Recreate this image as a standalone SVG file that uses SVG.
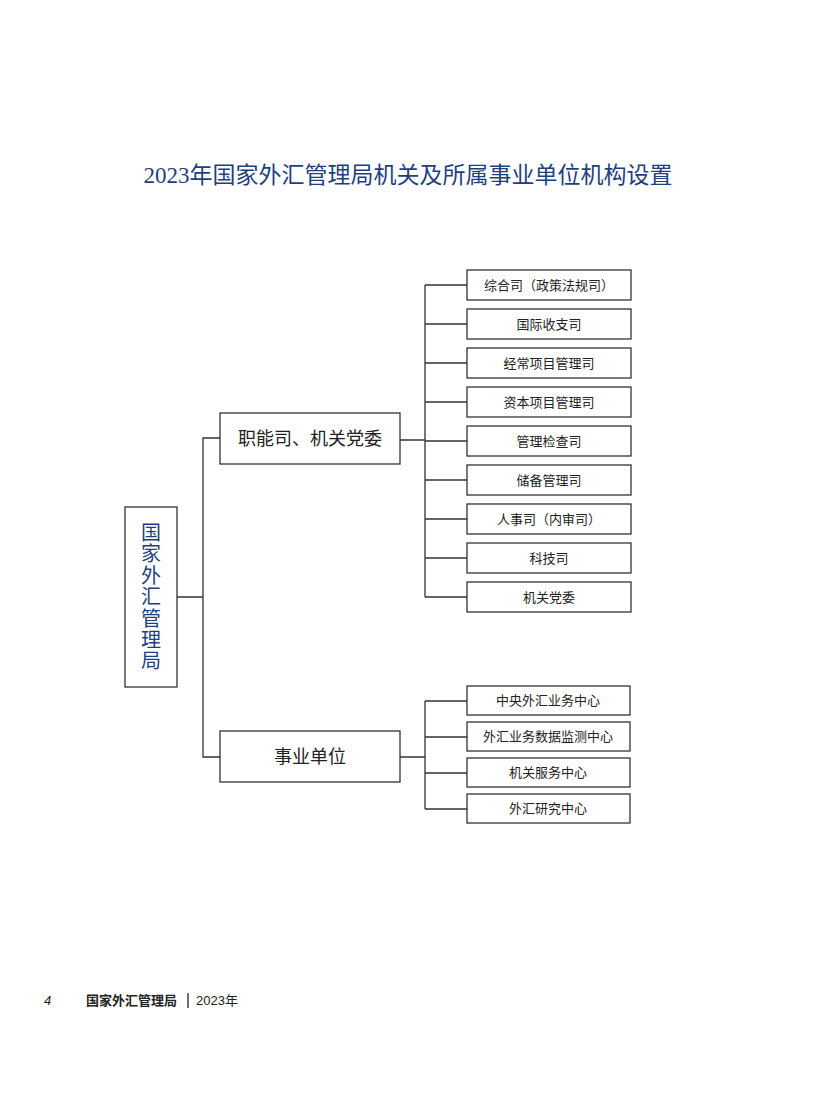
<svg xmlns="http://www.w3.org/2000/svg" width="816" height="1100" viewBox="0 0 816 1100">
<style>
.b{fill:#fff;stroke:#333;stroke-width:1.3}
.l{stroke:#333;stroke-width:1.3;fill:none}
.t{font-family:"Liberation Serif","Noto Sans CJK SC",serif;font-size:13px;fill:#222;text-anchor:middle}
.m{font-family:"Liberation Serif","Noto Sans CJK SC",serif;font-size:18px;fill:#222;text-anchor:middle}
</style>
<rect width="816" height="1100" fill="#fff"/>
<text x="408" y="183" font-family="Liberation Serif,Noto Sans CJK SC,serif" font-size="23" fill="#1f3f7f" text-anchor="middle">2023年国家外汇管理局机关及所属事业单位机构设置</text>
<g id="connectors">
<path class="l" d="M177 597H203M220 438H203V757H220M400 440H425M425 285V597M425 285H467M425 324H467M425 363H467M425 402H467M425 441H467M425 480H467M425 519H467M425 558H467M425 597H467M400 757H425M425 701V809M425 701H467M425 737H467M425 773H467M425 809H467"/>
</g>
<g id="root"><rect class="b" x="125" y="507" width="52" height="180"/>
<text font-family="Liberation Serif,Noto Sans CJK SC,serif" font-size="20" fill="#1f3f7f" text-anchor="middle"><tspan x="151" y="540">国</tspan><tspan x="151" y="561">家</tspan><tspan x="151" y="583">外</tspan><tspan x="151" y="604">汇</tspan><tspan x="151" y="626">管</tspan><tspan x="151" y="647">理</tspan><tspan x="151" y="668">局</tspan></text></g>
<g id="n1"><rect class="b" x="220" y="413" width="180" height="51"/><text class="m" x="310" y="445">职能司、机关党委</text></g>
<g id="n2"><rect class="b" x="220" y="731" width="180" height="51"/><text class="m" x="310" y="763">事业单位</text></g>
<g id="a1"><rect class="b" x="467" y="270" width="164" height="30"/><text class="t" x="549" y="290">综合司（政策法规司）</text></g>
<g id="a2"><rect class="b" x="467" y="309" width="164" height="30"/><text class="t" x="549" y="329">国际收支司</text></g>
<g id="a3"><rect class="b" x="467" y="348" width="164" height="30"/><text class="t" x="549" y="368">经常项目管理司</text></g>
<g id="a4"><rect class="b" x="467" y="387" width="164" height="30"/><text class="t" x="549" y="407">资本项目管理司</text></g>
<g id="a5"><rect class="b" x="467" y="426" width="164" height="30"/><text class="t" x="549" y="446">管理检查司</text></g>
<g id="a6"><rect class="b" x="467" y="465" width="164" height="30"/><text class="t" x="549" y="485">储备管理司</text></g>
<g id="a7"><rect class="b" x="467" y="504" width="164" height="30"/><text class="t" x="549" y="524">人事司（内审司）</text></g>
<g id="a8"><rect class="b" x="467" y="543" width="164" height="30"/><text class="t" x="549" y="563">科技司</text></g>
<g id="a9"><rect class="b" x="467" y="582" width="164" height="30"/><text class="t" x="549" y="602">机关党委</text></g>
<g id="b1"><rect class="b" x="467" y="686" width="163" height="29"/><text class="t" x="548" y="705">中央外汇业务中心</text></g>
<g id="b2"><rect class="b" x="467" y="722" width="163" height="29"/><text class="t" x="548" y="741">外汇业务数据监测中心</text></g>
<g id="b3"><rect class="b" x="467" y="758" width="163" height="29"/><text class="t" x="548" y="777">机关服务中心</text></g>
<g id="b4"><rect class="b" x="467" y="794" width="163" height="29"/><text class="t" x="548" y="813">外汇研究中心</text></g>
<text x="44" y="1005" font-family="Liberation Sans,sans-serif" font-style="italic" font-size="13" fill="#222">4</text>
<text x="86" y="1005" font-family="Liberation Sans,Noto Sans CJK SC,sans-serif" font-size="13" font-weight="bold" fill="#222">国家外汇管理局</text>
<line x1="188" y1="993" x2="188" y2="1008" stroke="#222" stroke-width="1.3"/>
<text x="196" y="1005" font-family="Liberation Sans,Noto Sans CJK SC,sans-serif" font-size="13" fill="#222">2023年</text>
</svg>
